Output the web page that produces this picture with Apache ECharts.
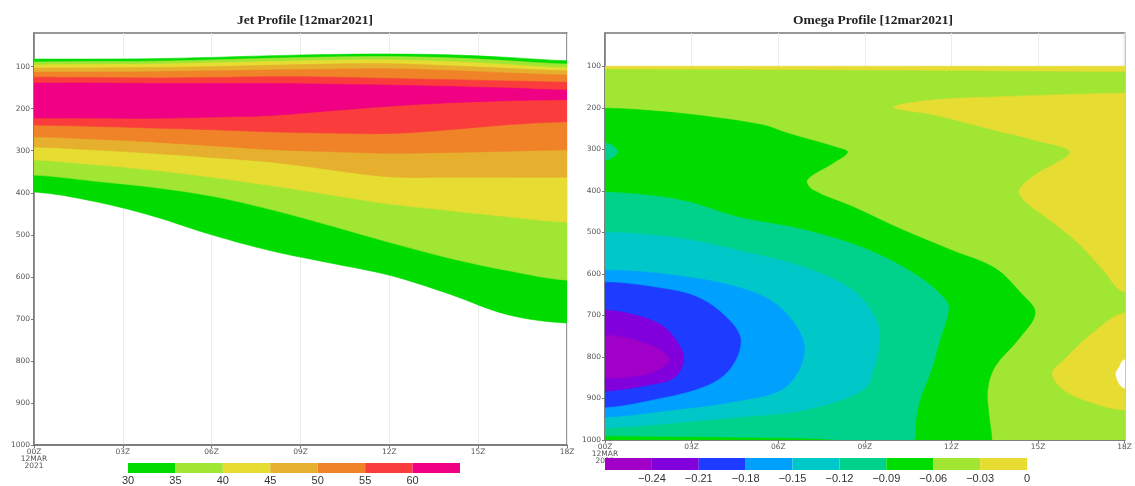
<!DOCTYPE html>
<html>
<head>
<meta charset="utf-8">
<script src="https://cdn.jsdelivr.net/npm/echarts@6/dist/echarts.min.js"></script>
<style>html,body{margin:0;padding:0;background:#fff}#c{width:1135px;height:486px}</style>
</head>
<body>
<div id="c"></div>
<script>
// ---------------- DATA ----------------
const hourTicks = [0, 3, 6, 9, 12, 15, 18];
const pressureTicks = [100, 200, 300, 400, 500, 600, 700, 800, 900, 1000];

// Jet profile: pressure (hPa) of each isotach (upper / lower edge) at these hours
const jetHours = [0, 2, 4, 6, 8, 10, 12, 14, 16, 18];
const jet30Top    = [82, 82, 81, 78, 74, 71, 70, 72, 78, 86];
const jet35Top    = [89, 88, 87, 84, 80, 77, 76, 79, 86, 94];
const jet40Top    = [96, 95, 94, 91, 88, 85, 84, 88, 95, 103];
const jet45Top    = [103, 103, 102, 100, 97, 94, 93, 98, 104, 110];
const jet50Top    = [113, 113, 112, 110, 108, 106, 105, 109, 115, 120];
const jet55Top    = [125, 126, 127, 126, 124, 125, 128, 131, 134, 137];
const jet60Top    = [139, 139, 140, 140, 140, 142, 144, 147, 151, 156];
const jet60Bottom = [222, 222, 223, 220, 216, 205, 194, 186, 181, 179];
const jet55Bottom = [239, 242, 246, 250, 255, 258, 259, 250, 238, 231];
const jet50Bottom = [267, 272, 279, 288, 297, 302, 306, 304, 301, 298];
const jet45Bottom = [291, 298, 306, 316, 327, 345, 362, 363, 363, 363];
const jet40Bottom = [322, 333, 346, 363, 383, 405, 427, 442, 457, 470];
const jet35Bottom = [358, 372, 387, 408, 440, 478, 518, 555, 585, 608];
const jet30Bottom = [398, 420, 455, 500, 538, 567, 596, 640, 690, 710];

const jetLevels = [30, 35, 40, 45, 50, 55, 60];
const jetBarEdges = [30, 35, 40, 45, 50, 55, 60, 65];
const jetColors = ['rgb(0,220,0)', 'rgb(160,230,50)', 'rgb(230,220,50)', 'rgb(230,175,45)',
                   'rgb(240,130,40)', 'rgb(250,60,60)', 'rgb(240,0,130)'];

// Omega profile: contour lines as [hour, hPa] from edge to edge
const omegaTop      = [[0, 100], [18, 100]];
const omegaYG       = [[0, 108], [9, 110], [18, 114]];
const omegaYellowA  = [[18, 165], [15.5, 169], [13.5, 174], [11.4, 181], [10.0, 199], [11.4, 217], [13.5, 254],
                       [14.9, 278], [16.1, 307], [14.9, 362], [14.35, 398], [14.5, 422], [15.3, 465],
                       [16.4, 526], [17.25, 590], [18, 644]];
const omegaYellowB  = [[18, 694], [16.9, 742], [15.9, 807], [15.5, 840], [15.9, 880], [16.9, 911], [18, 928]];
const omegaPositive = [[18, 807], [17.8, 826], [17.7, 840], [17.8, 863], [18, 875]];
const omegaM06      = [[0, 201], [1.2, 205], [3.2, 218], [5.5, 242], [6.3, 261], [8.0, 295], [8.4, 307],
                       [7.9, 333], [7.0, 374], [7.2, 398], [8.6, 439], [10.3, 494], [12.0, 543], [13.5, 586],
                       [14.4, 646], [14.9, 694], [14.3, 759], [13.5, 824], [13.25, 880], [13.3, 940], [13.4, 1000]];
const omegaM09      = [[0, 403], [2.6, 422], [4.6, 463], [6.9, 494], [9.15, 543], [10.9, 608], [11.8, 663],
                       [11.9, 687], [11.6, 759], [11.3, 832], [10.9, 904], [10.75, 959], [10.65, 1000],
                       [6.7, 995], [0, 990]];
const omegaM09Blip  = [[0, 285], [0.3, 293], [0.45, 306], [0.3, 318], [0, 326]];
const omegaM12      = [[0, 499], [2.6, 514], [4.6, 543], [6.9, 584], [8.6, 640], [9.4, 711], [9.5, 766],
                       [9.3, 830], [8.95, 879], [6.9, 928], [4.6, 945], [0, 971]];
const omegaM15      = [[0, 591], [2.05, 600], [4.6, 632], [6.05, 680], [6.9, 775], [6.3, 870], [4.6, 906],
                       [2.05, 930], [0, 945]];
const omegaM18      = [[0, 620], [1.5, 630], [3.2, 656], [4.3, 711], [4.7, 762], [4.3, 831], [3.4, 872],
                       [1.5, 905], [0, 921]];
const omegaM21      = [[0, 687], [1.2, 702], [2.05, 728], [2.6, 775], [2.72, 810], [2.4, 850], [1.47, 868], [0, 882]];
const omegaM24      = [[0, 747], [1.54, 771], [2.22, 807], [1.54, 839], [0, 851]];

const omegaBarEdges = [-0.27, -0.24, -0.21, -0.18, -0.15, -0.12, -0.09, -0.06, -0.03, 0];
const omegaLabels = [-0.24, -0.21, -0.18, -0.15, -0.12, -0.09, -0.06, -0.03, 0];
const omegaColors = ['rgb(160,0,200)', 'rgb(130,0,220)', 'rgb(30,60,255)', 'rgb(0,160,255)',
                     'rgb(0,200,200)', 'rgb(0,210,140)', 'rgb(0,220,0)', 'rgb(160,230,50)', 'rgb(230,220,50)'];

// ---------------- BUILD ----------------
const PAD_H = 2.5, PAD_P = 120;
const L = -PAD_H, R = 18 + PAD_H, B = 1000 + PAD_P;

function closeRegion(line, side) {
  const a = line[0], b = line[line.length - 1];
  let tail;
  if (side === 'left') tail = [[L, b[1]], [L, a[1]]];
  else if (side === 'right') tail = [[R, b[1]], [R, a[1]]];
  else if (side === 'leftBottom') tail = [[b[0], B], [L, B], [L, a[1]]];
  else tail = [[R, b[1]], [R, B], [L, B], [L, a[1]]];
  return line.concat(tail);
}
function band(top, bottom) {
  const pts = [[L, top[0]]];
  jetHours.forEach((h, i) => pts.push([h, top[i]]));
  pts.push([R, top[top.length - 1]], [R, bottom[bottom.length - 1]]);
  for (let i = jetHours.length - 1; i >= 0; i--) pts.push([jetHours[i], bottom[i]]);
  pts.push([L, bottom[0]]);
  return pts;
}
function regionSeries(g, pts, color) {
  return {
    type: 'custom', xAxisIndex: g, yAxisIndex: g, clip: true, silent: true, z: 2,
    data: [[9, 500]],
    renderItem: (params, api) => ({
      type: 'polygon',
      shape: { points: pts.map(p => api.coord(p)), smooth: 0.35 },
      style: { fill: color, stroke: color, lineWidth: 0.6 }
    })
  };
}

const series = [];
const jetBands = [[jet30Top, jet30Bottom], [jet35Top, jet35Bottom], [jet40Top, jet40Bottom],
                  [jet45Top, jet45Bottom], [jet50Top, jet50Bottom], [jet55Top, jet55Bottom], [jet60Top, jet60Bottom]];
jetBands.forEach((b, i) => series.push(regionSeries(0, band(b[0], b[1]), jetColors[i])));

const oc = omegaColors;
[
  [omegaTop, 'around', oc[8]],
  [omegaYG, 'around', oc[7]],
  [omegaYellowA, 'right', oc[8]],
  [omegaYellowB, 'right', oc[8]],
  [omegaPositive, 'right', '#ffffff'],
  [omegaM06, 'leftBottom', oc[6]],
  [omegaM09, 'left', oc[5]],
  [omegaM09Blip, 'left', oc[5]],
  [omegaM12, 'left', oc[4]],
  [omegaM15, 'left', oc[3]],
  [omegaM18, 'left', oc[2]],
  [omegaM21, 'left', oc[1]],
  [omegaM24, 'left', oc[0]]
].forEach(r => series.push(regionSeries(1, closeRegion(r[0], r[1]), r[2])));

function barSeries(g, edges, colors) {
  return {
    type: 'custom', xAxisIndex: g, yAxisIndex: g, silent: true, z: 5,
    data: colors.map((c, i) => [edges[i], edges[i + 1], i]),
    renderItem: (params, api) => {
      const p0 = api.coord([api.value(0), 1]);
      const p1 = api.coord([api.value(1), 0]);
      return { type: 'rect', shape: { x: p0[0], y: p0[1], width: p1[0] - p0[0], height: p1[1] - p0[1] },
               style: { fill: colors[api.value(2)] } };
    }
  };
}
series.push(barSeries(2, jetBarEdges, jetColors));
series.push(barSeries(3, omegaBarEdges, omegaColors));

const axisFont = { fontFamily: 'DejaVu Sans', fontSize: 7.5, color: '#555' };
function hourLabel(v) {
  const s = (v < 10 ? '0' : '') + v + 'Z';
  return v === 0 ? s + '\n12MAR\n2021' : s;
}
function mainX(g) {
  return {
    type: 'value', gridIndex: g, min: 0, max: 18, interval: 3,
    axisLine: { lineStyle: { color: '#777', width: 1.5 } },
    axisTick: { length: 3, lineStyle: { color: '#777' } },
    axisLabel: Object.assign({ margin: 4, lineHeight: 7, formatter: hourLabel }, axisFont),
    splitLine: { show: true, lineStyle: { color: '#ececec', width: 1 } }
  };
}
function mainY(g) {
  return {
    type: 'value', gridIndex: g, min: 20, max: 1000, inverse: true,
    axisLine: { show: true, lineStyle: { color: '#777', width: 1.5 } },
    axisTick: { show: true, length: 3, customValues: pressureTicks, lineStyle: { color: '#777' } },
    axisLabel: Object.assign({ margin: 4, customValues: pressureTicks, formatter: v => String(v) }, axisFont),
    splitLine: { show: false }
  };
}
const barLabelFont = { fontFamily: 'Liberation Sans', fontSize: 11, color: '#333' };

const option = {
  backgroundColor: '#fff',
  animation: false,
  title: [
    { text: 'Jet Profile [12mar2021]', left: 300, top: 9, textAlign: 'center',
      textStyle: { fontFamily: 'Liberation Serif', fontWeight: 'bold', fontSize: 13.5, color: '#222' } },
    { text: 'Omega Profile [12mar2021]', left: 868, top: 9, textAlign: 'center',
      textStyle: { fontFamily: 'Liberation Serif', fontWeight: 'bold', fontSize: 13.5, color: '#222' } }
  ],
  grid: [
    { left: 34, top: 33, width: 533, height: 412, show: true, borderColor: '#777', borderWidth: 1.5 },
    { left: 605, top: 33, width: 527, height: 407, show: true, borderColor: '#777', borderWidth: 1.5 },
    { left: 128, top: 463, width: 332, height: 12 },
    { left: 605, top: 458, width: 422, height: 12 }
  ],
  xAxis: [
    mainX(0), mainX(1),
    { type: 'value', gridIndex: 2, min: 30, max: 65, axisLine: { show: false }, axisTick: { show: false },
      splitLine: { show: false },
      axisLabel: Object.assign({ margin: 2, customValues: jetLevels }, barLabelFont) },
    { type: 'value', gridIndex: 3, min: -0.27, max: 0, axisLine: { show: false }, axisTick: { show: false },
      splitLine: { show: false },
      axisLabel: Object.assign({ margin: 3, customValues: omegaLabels,
        formatter: v => Math.abs(v) < 1e-9 ? '0' : '\u2212' + Math.abs(v).toFixed(2) }, barLabelFont) }
  ],
  yAxis: [
    mainY(0), mainY(1),
    { type: 'value', gridIndex: 2, min: 0, max: 1, show: false },
    { type: 'value', gridIndex: 3, min: 0, max: 1, show: false }
  ],
  series: series
};
const chart = echarts.init(document.getElementById('c'), null, { renderer: 'canvas' });
chart.setOption(option);
</script>
</body>
</html>
